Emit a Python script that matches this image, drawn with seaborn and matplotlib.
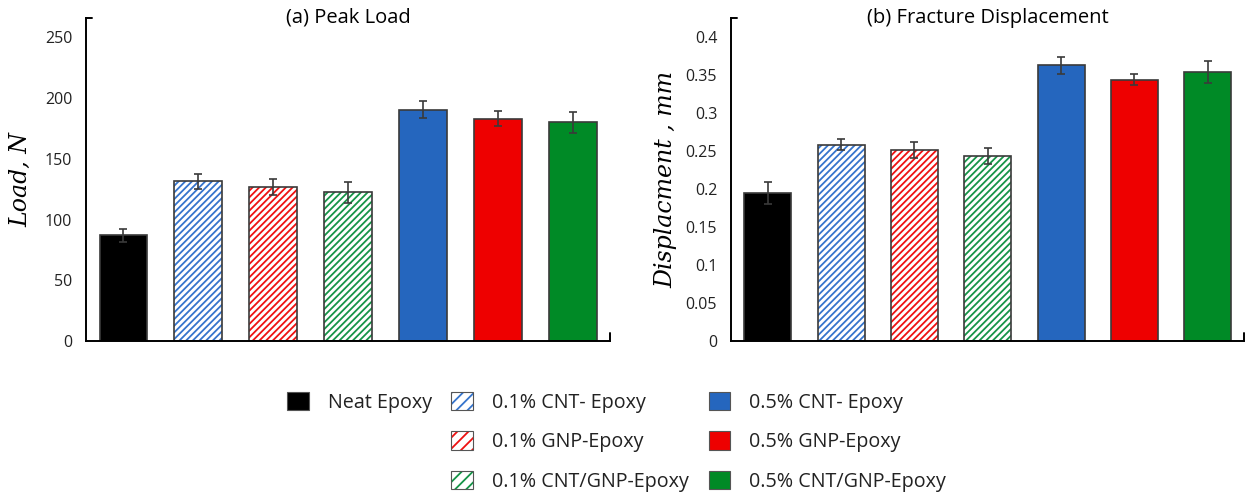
import numpy as np
import pandas as pd
import matplotlib
matplotlib.use("Agg")
import matplotlib.pyplot as plt
import seaborn as sns
from matplotlib.patches import Patch
from matplotlib.colors import to_rgba
from matplotlib.ticker import FuncFormatter, MultipleLocator

# ---------------- data ----------------
categories = ["Neat Epoxy", "0.1% CNT- Epoxy", "0.1% GNP-Epoxy", "0.1% CNT/GNP-Epoxy",
              "0.5% CNT- Epoxy", "0.5% GNP-Epoxy", "0.5% CNT/GNP-Epoxy"]
peak_load = [87, 131.5, 126.5, 122.5, 190.5, 183, 180]
peak_load_err = [5.5, 6, 6.5, 8.5, 7, 6, 8.5]
fracture_disp = [0.194, 0.258, 0.251, 0.243, 0.362, 0.343, 0.353]
fracture_disp_err = [0.0145, 0.0077, 0.0107, 0.011, 0.011, 0.0072, 0.0144]

fill_colors = ["#000000", "#ffffff", "#ffffff", "#ffffff", "#2566BE", "#EE0000", "#008A26"]
hatch_colors = ["#000000", "#3574CC", "#EE1111", "#159447", "#2566BE", "#EE0000", "#008A26"]
hatches = ["", "/////", "/////", "/////", "", "", ""]

df = pd.DataFrame({"category": categories, "load": peak_load, "disp": fracture_disp})

# ---------------- style ----------------
sns.set_theme(style="white")
plt.rcParams["font.family"] = ["Open Sans", "DejaVu Sans"]
plt.rcParams["hatch.linewidth"] = 1.3

EDGE = "#3a3a3a"

fig = plt.figure(figsize=(12.49, 4.98), dpi=100)
ax1 = fig.add_axes([0.0689, 0.3153, 0.4195, 0.6486])
ax2 = fig.add_axes([0.5853, 0.3153, 0.411, 0.6486])


def draw(ax, col, err, ylim, step, ylabel, title, fmt):
    sns.barplot(data=df, x="category", y=col, hue="category", order=categories,
                hue_order=categories, palette=fill_colors, width=0.64,
                edgecolor=EDGE, linewidth=1.2, legend=False, ax=ax, errorbar=None)
    for p, h, hc, fc in zip(ax.patches, hatches, hatch_colors, fill_colors):
        p.set_facecolor(fc)
        if h:
            p.set_hatch(h)
            p._hatch_color = to_rgba(hc)
    ax.errorbar(np.arange(len(categories)), df[col], yerr=err, fmt="none",
                ecolor=EDGE, elinewidth=1.2, capsize=3, capthick=1.2, zorder=5)
    ax.set_ylim(*ylim)
    ax.set_xlim(-0.5, len(categories) - 0.5)
    ax.yaxis.set_major_locator(MultipleLocator(step))
    ax.yaxis.set_major_formatter(FuncFormatter(fmt))
    ax.set_xticks([])
    ax.set_xlabel("")
    ax.tick_params(axis="y", length=0, pad=10, labelsize=11.5, colors="#222222")
    for s in ["top", "right"]:
        ax.spines[s].set_visible(False)
    for s in ["left", "bottom"]:
        ax.spines[s].set_color("black")
        ax.spines[s].set_linewidth(1.4)
    # Excel-style end stubs
    ax.plot([0, 0.012], [1, 1], transform=ax.transAxes, color="black", lw=1.4, clip_on=False)
    ax.plot([1, 1], [0, 0.025], transform=ax.transAxes, color="black", lw=1.4, clip_on=False)
    ax.set_ylabel(ylabel, family=["DejaVu Serif"], style="italic", fontsize=17, color="black")
    ax.text(0.5, 1.0, title, transform=ax.transAxes, ha="center", va="center",
            fontsize=14.5, color="black")


draw(ax1, "load", peak_load_err, (0, 266), 50, "Load, N", "(a) Peak Load",
     lambda v, pos: f"{v:g}")
draw(ax2, "disp", fracture_disp_err, (0, 0.4244), 0.05, "Displacment , mm",
     "(b) Fracture Displacement", lambda v, pos: f"{round(v, 2):g}")
ax1.yaxis.set_label_coords(-0.103, 0.5)
ax2.yaxis.set_label_coords(-0.104, 0.5)

# ---------------- legend ----------------
handles, labels = [], []
for i, (lab, fc, hc, h) in enumerate(zip(categories, fill_colors, hatch_colors, hatches)):
    hp = Patch(facecolor=fc, edgecolor="#555555", hatch=h.replace("/////", "///"), linewidth=0.8)
    if h:
        hp._hatch_color = to_rgba(hc)
    handles.append(hp)
    labels.append(lab)
    if i == 0:
        for _ in range(2):
            handles.append(Patch(facecolor="none", edgecolor="none"))
            labels.append("")

leg = fig.legend(handles, labels, ncol=3, loc="center", bbox_to_anchor=(0.4936, 0.113),
                 frameon=False, fontsize=14.2, handlelength=1.1, handleheight=1.05,
                 handletextpad=0.95, columnspacing=1.0, labelspacing=0.95)
for t in leg.get_texts():
    t.set_color("#222222")

fig.savefig("out.png", dpi=100)
